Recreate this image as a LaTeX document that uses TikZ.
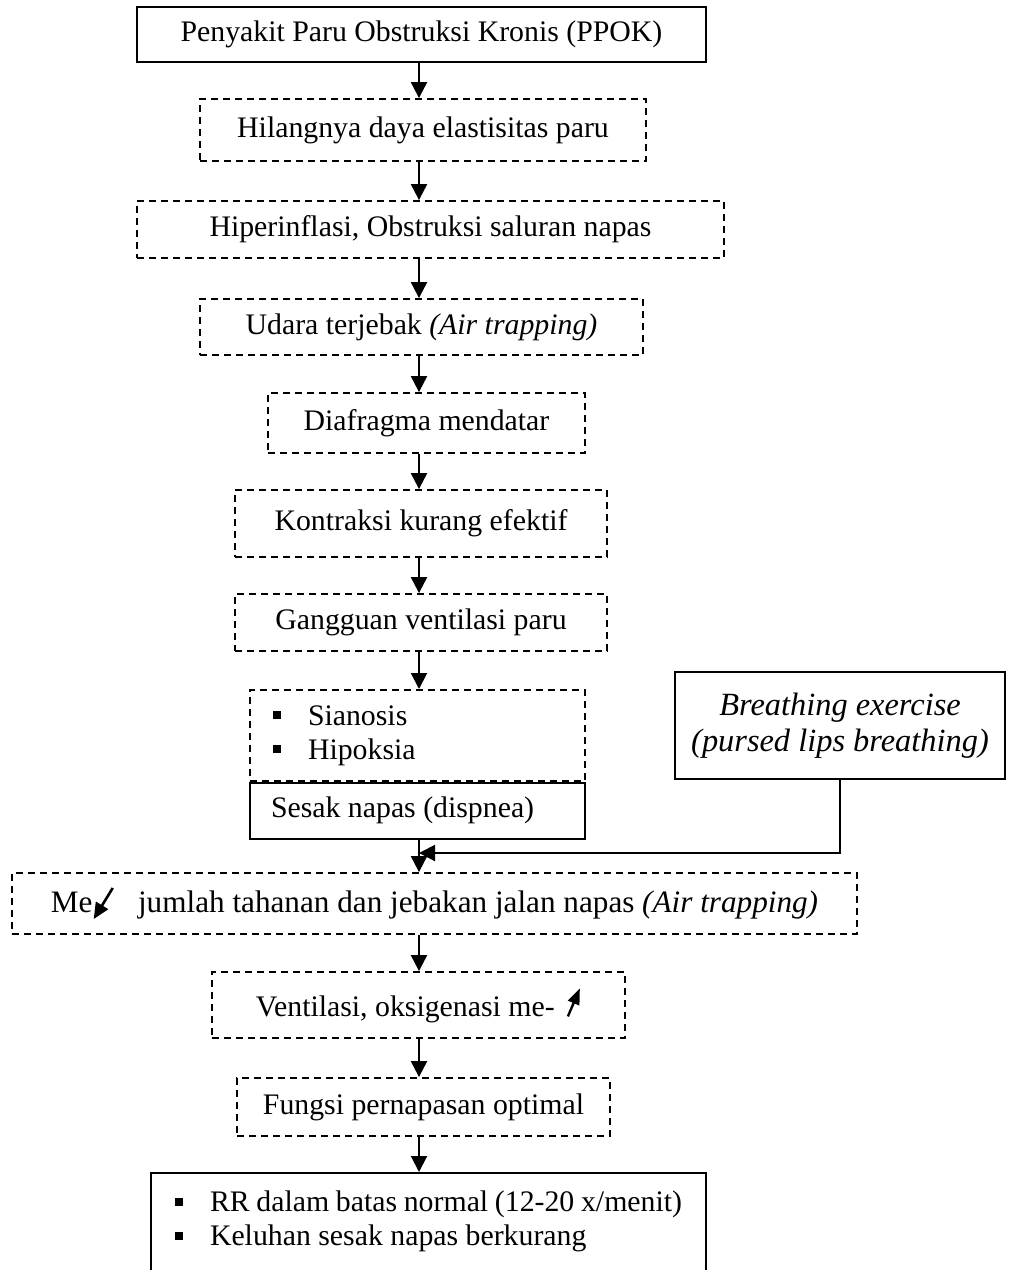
\documentclass[tikz,border=0pt]{standalone}
\usepackage{fontspec}
\setmainfont{Liberation Serif}
\usetikzlibrary{arrows.meta}

\newcommand{\kotakkecil}{\raisebox{3pt}{\rule{4pt}{4pt}}\hspace{13.5pt}}
\newcommand{\panahturun}{\tikz[baseline=0pt,x=1pt,y=1pt]\draw[solid,line width=1.3pt,-{Triangle[width=7pt,length=8pt]}] (10,12) -- (0.5,-3.5);}
\newcommand{\panahnaik}{\tikz[baseline=0pt,x=1pt,y=1pt]\draw[solid,line width=1.2pt,-{Triangle[width=6pt,length=8pt]}] (0,0) -- (6,14);}

\begin{document}
\begin{tikzpicture}[x=0.5pt, y=-0.5pt,
  every node/.style = {shape=rectangle, inner sep=2pt,
    font=\fontsize{14.9}{17}\selectfont},
  kotak/.style = {draw, line width=0.9pt},
  kotakputus/.style = {draw, line width=0.9pt, dash pattern=on 3.5pt off 2.5pt},
  panah/.style = {line width=1pt, -{Triangle[width=8pt,length=8pt]}}]
  \useasboundingbox (0,0) rectangle (1012,1270);
  \coordinate (tulang) at (419,0);

  \node[kotak, minimum width=284.5pt, minimum height=27.5pt] (ppok) at (421.5,34.5)
    {Penyakit Paru Obstruksi Kronis (PPOK)};
  \node[kotakputus, minimum width=223pt, minimum height=31pt] (hilang) at (423,130)
    {Hilangnya daya elastisitas paru};
  \node[kotakputus, minimum width=293.5pt, minimum height=28.5pt] (hiper) at (430.5,229.5)
    {Hiperinflasi, Obstruksi saluran napas};
  \node[kotakputus, minimum width=221.5pt, minimum height=28pt] (udara) at (421.5,327)
    {Udara terjebak \textit{(Air trapping)}};
  \node[kotakputus, minimum width=158.5pt, minimum height=30pt] (diafragma) at (426.5,423)
    {Diafragma mendatar};
  \node[kotakputus, minimum width=186pt, minimum height=33.5pt] (kontraksi) at (421,523.5)
    {Kontraksi kurang efektif};
  \node[kotakputus, minimum width=186pt, minimum height=28.5pt] (gangguan) at (421,622.5)
    {Gangguan ventilasi paru};
  \node[kotakputus, anchor=north, minimum width=167.5pt, minimum height=45.5pt,
    inner xsep=11.5pt, text width=144.5pt, align=flush left] (gejala) at (417.5,689)
    {\kotakkecil Sianosis\\ \kotakkecil Hipoksia};
  \node[kotak, anchor=north, minimum width=167.5pt, minimum height=28pt,
    inner xsep=10.5pt, text width=146.5pt, align=flush left] (sesak) at (gejala.south)
    {Sesak napas (dispnea)};
  \node[kotak, minimum width=165pt, minimum height=53.5pt, align=center,
    font=\fontsize{16.2}{18}\selectfont\itshape] (latihan) at (840,725.5)
    {Breathing exercise\\(pursed lips breathing)};
  \node[kotakputus, minimum width=422.5pt, minimum height=30.5pt,
    font=\fontsize{15.6}{17}\selectfont] (menurun) at (434.5,903.5)
    {Me\panahturun\hspace{12pt}jumlah tahanan dan jebakan jalan napas \textit{(Air trapping)}};
  \node[kotakputus, minimum width=206.5pt, minimum height=33pt] (ventilasi) at (418.5,1005)
    {Ventilasi, oksigenasi me-\hspace{6pt}\panahnaik};
  \node[kotakputus, minimum width=186.5pt, minimum height=29pt] (fungsi) at (423.5,1107)
    {Fungsi pernapasan optimal};
  \node[kotak, anchor=north, minimum width=277.5pt, inner xsep=12pt, inner ysep=9pt,
    text width=253.5pt, text depth=60pt, align=flush left] (hasil) at (428.5,1172)
    {\kotakkecil RR dalam batas normal (12-20 x/menit)\\ \kotakkecil Keluhan sesak napas berkurang};

  \coordinate (temu) at (419,853);

  \draw[panah] (ppok.south -| tulang) -- (hilang.north -| tulang);
  \draw[panah] (hilang.south -| tulang) -- (hiper.north -| tulang);
  \draw[panah] (hiper.south -| tulang) -- (udara.north -| tulang);
  \draw[panah] (udara.south -| tulang) -- (diafragma.north -| tulang);
  \draw[panah] (diafragma.south -| tulang) -- (kontraksi.north -| tulang);
  \draw[panah] (kontraksi.south -| tulang) -- (gangguan.north -| tulang);
  \draw[panah] (gangguan.south -| tulang) -- (gejala.north -| tulang);
  \draw[panah] (sesak.south -| tulang) -- (menurun.north -| tulang);
  \draw[panah] (latihan.south) |- (temu);
  \draw[panah] (menurun.south -| tulang) -- (ventilasi.north -| tulang);
  \draw[panah] (ventilasi.south -| tulang) -- (fungsi.north -| tulang);
  \draw[panah] (fungsi.south -| tulang) -- (hasil.north -| tulang);
\end{tikzpicture}
\end{document}
